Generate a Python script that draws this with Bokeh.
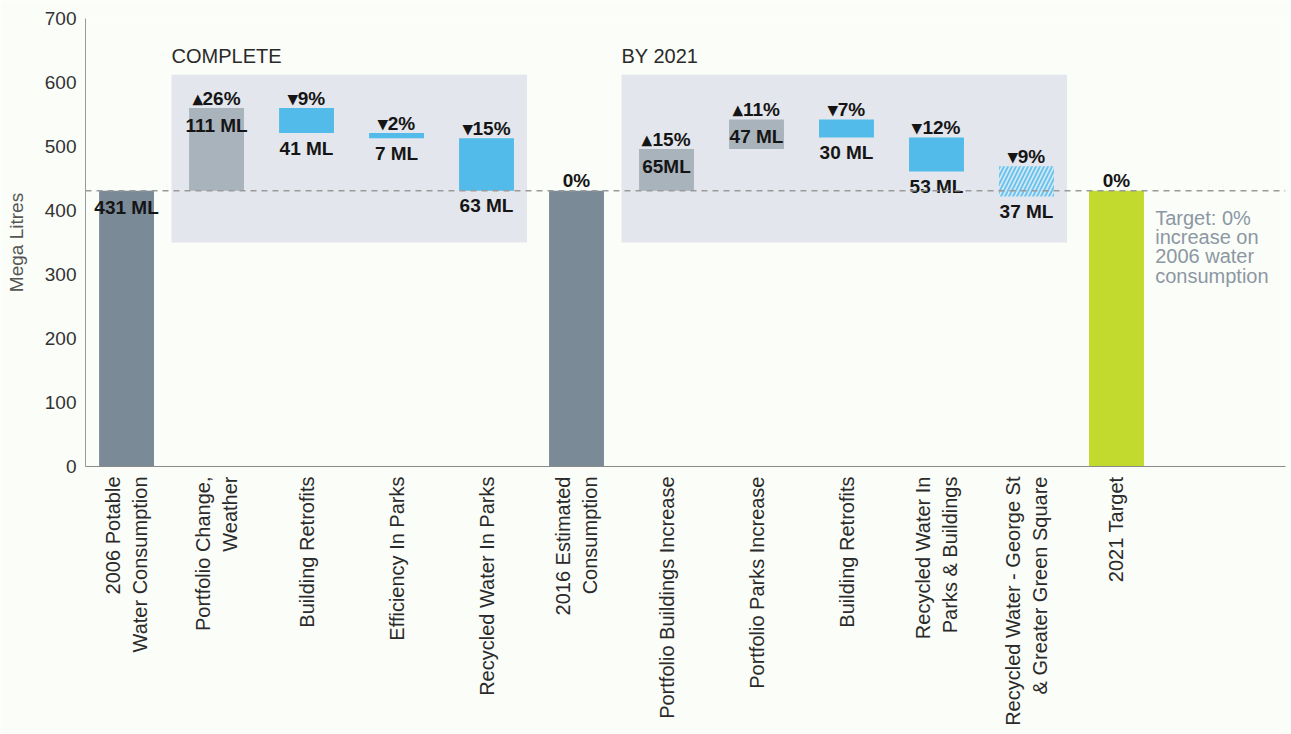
import math
from bokeh.plotting import figure
from bokeh.models import FixedTicker, Span, BoxAnnotation, ColumnDataSource, Range1d
from bokeh.core.properties import value
from bokeh.embed import file_html
from bokeh.resources import INLINE

# ---------------- data ----------------
categories = [
    "2006 Potable\nWater Consumption",
    "Portfolio Change,\nWeather",
    "Building Retrofits",
    "Efficiency In Parks",
    "Recycled Water In Parks",
    "2016 Estimated\nConsumption",
    "Portfolio Buildings Increase",
    "Portfolio Parks Increase",
    "Building Retrofits",
    "Recycled Water In\nParks & Buildings",
    "Recycled Water - George St\n& Greater Green Square",
    "2021 Target",
]
bar_bottom = [0, 431, 521, 513, 431, 0, 431, 496, 514, 461, 422, 0]
bar_top = [431, 560, 560, 521, 513, 431, 496, 542, 542, 514, 469, 431]
kind = ["total", "up", "down", "down", "down", "total", "up", "up", "down", "down", "planned", "target"]
pct_labels = ["", "\u25b426%", "\u25be9%", "\u25be2%", "\u25be15%", "0%",
              "\u25b415%", "\u25b411%", "\u25be7%", "\u25be12%", "\u25be9%", "0%"]
ml_labels = ["431 ML", "111 ML", "41 ML", "7 ML", "63 ML", "",
             "65ML", "47 ML", "30 ML", "53 ML", "37 ML", ""]
baseline_ml = 431
group_titles = ["COMPLETE", "BY 2021"]
group_first = [1, 6]
group_last = [4, 10]
y_ticks = [0, 100, 200, 300, 400, 500, 600, 700]
target_note = "Target: 0%\nincrease on\n2006 water\nconsumption"

# ---------------- style ----------------
FONT = "Liberation Sans"
BG = "#fbfdf8"
colors = {"total": "#7b8a97", "up": "#a9b3bc", "down": "#52bbe9",
          "planned": "#d4ebf7", "target": "#c2d92e"}

p = figure(width=1291, height=734, output_backend="svg", toolbar_location=None,
           x_range=Range1d(-0.456, 12.878), y_range=Range1d(0, 700),
           min_border_left=85, min_border_right=6, min_border_top=18, min_border_bottom=268)
p.background_fill_color = BG
p.border_fill_color = BG
p.outline_line_color = None
p.xgrid.visible = False
p.ygrid.visible = False

# group background boxes
for t, f, l in zip(group_titles, group_first, group_last):
    p.add_layout(BoxAnnotation(left=f - 0.5, right=l + 0.45, bottom=350, top=612,
                               fill_color="#e3e6ec", fill_alpha=1, line_color=None,
                               level="underlay"))

xs = list(range(len(categories)))

def sel(k):
    idx = [i for i in xs if kind[i] in k]
    return ColumnDataSource(dict(x=[xs[i] for i in idx],
                                 top=[bar_top[i] for i in idx],
                                 bottom=[bar_bottom[i] for i in idx]))

for k in ["total", "up", "down", "target"]:
    p.vbar(x="x", top="top", bottom="bottom", width=0.61, source=sel([k]),
           fill_color=colors[k], line_color=None)
p.vbar(x="x", top="top", bottom="bottom", width=0.61, source=sel(["planned"]),
       fill_color=colors["planned"], line_color=None, hatch_pattern="/",
       hatch_color="#6fc3ec", hatch_scale=8, hatch_weight=2)

# baseline dashed line
p.add_layout(Span(location=baseline_ml, dimension="width", line_color="#9a9a9a",
                  line_dash="6 5", line_width=1.5))

# group titles
p.text(x=[f - 0.5 for f in group_first], y=[612] * len(group_first), text=group_titles,
       text_font=value(FONT), text_font_size="20px", text_color="#2a2a2a",
       text_align="left", text_baseline="alphabetic", y_offset=-19)

# percentage labels (above bar top)
pi_ = [i for i in xs if pct_labels[i]]
p.text(x=[xs[i] for i in pi_], y=[bar_top[i] for i in pi_], text=[pct_labels[i] for i in pi_],
       text_font=value(FONT), text_font_size="19px", text_font_style="bold", text_color="#151515",
       text_align="center", text_baseline="alphabetic", y_offset=-10)

# ML labels: inside top for increases/totals, below bottom for decreases
mi_up = [i for i in xs if ml_labels[i] and kind[i] in ("total", "up")]
mi_dn = [i for i in xs if ml_labels[i] and kind[i] in ("down", "planned")]
p.text(x=[xs[i] for i in mi_up], y=[bar_top[i] for i in mi_up], text=[ml_labels[i] for i in mi_up],
       text_font=value(FONT), text_font_size="19px", text_font_style="bold", text_color="#151515",
       text_align="center", text_baseline="alphabetic", y_offset=17)
p.text(x=[xs[i] for i in mi_dn], y=[bar_bottom[i] for i in mi_dn], text=[ml_labels[i] for i in mi_dn],
       text_font=value(FONT), text_font_size="19px", text_font_style="bold", text_color="#151515",
       text_align="center", text_baseline="alphabetic", y_offset=15)

# target note
p.text(x=[11.43], y=[406], text=[target_note], text_font=value(FONT), text_font_size="20px",
       text_color="#8c97a4", text_align="left", text_baseline="top", text_line_height=0.88)

# axes
p.xaxis.ticker = FixedTicker(ticks=xs)
p.xaxis.major_label_overrides = {i: c for i, c in enumerate(categories)}
p.xaxis.major_label_orientation = math.pi / 2
p.xaxis.major_label_text_font = FONT
p.xaxis.major_label_text_font_size = "20px"
p.xaxis.major_label_text_color = "#2a2a2a"
p.xaxis.major_label_standoff = 10
p.xaxis.major_tick_out = 0
p.xaxis.major_tick_in = 0
p.xaxis.minor_tick_out = 0
p.xaxis.minor_tick_in = 0
p.xaxis.axis_line_color = "#8a8a8a"

p.yaxis.ticker = FixedTicker(ticks=y_ticks)
p.yaxis.major_label_text_font = FONT
p.yaxis.major_label_text_font_size = "19px"
p.yaxis.major_label_text_color = "#333333"
p.yaxis.major_label_standoff = 9
p.yaxis.major_tick_out = 0
p.yaxis.major_tick_in = 0
p.yaxis.minor_tick_out = 0
p.yaxis.minor_tick_in = 0
p.yaxis.axis_line_color = "#9a9a9a"
p.yaxis.axis_label = "Mega Litres"
p.yaxis.axis_label_text_font = FONT
p.yaxis.axis_label_text_font_size = "19px"
p.yaxis.axis_label_text_font_style = "normal"
p.yaxis.axis_label_text_color = "#555555"
p.yaxis.axis_label_standoff = 15

open("out.html", "w").write(file_html(p, INLINE))
